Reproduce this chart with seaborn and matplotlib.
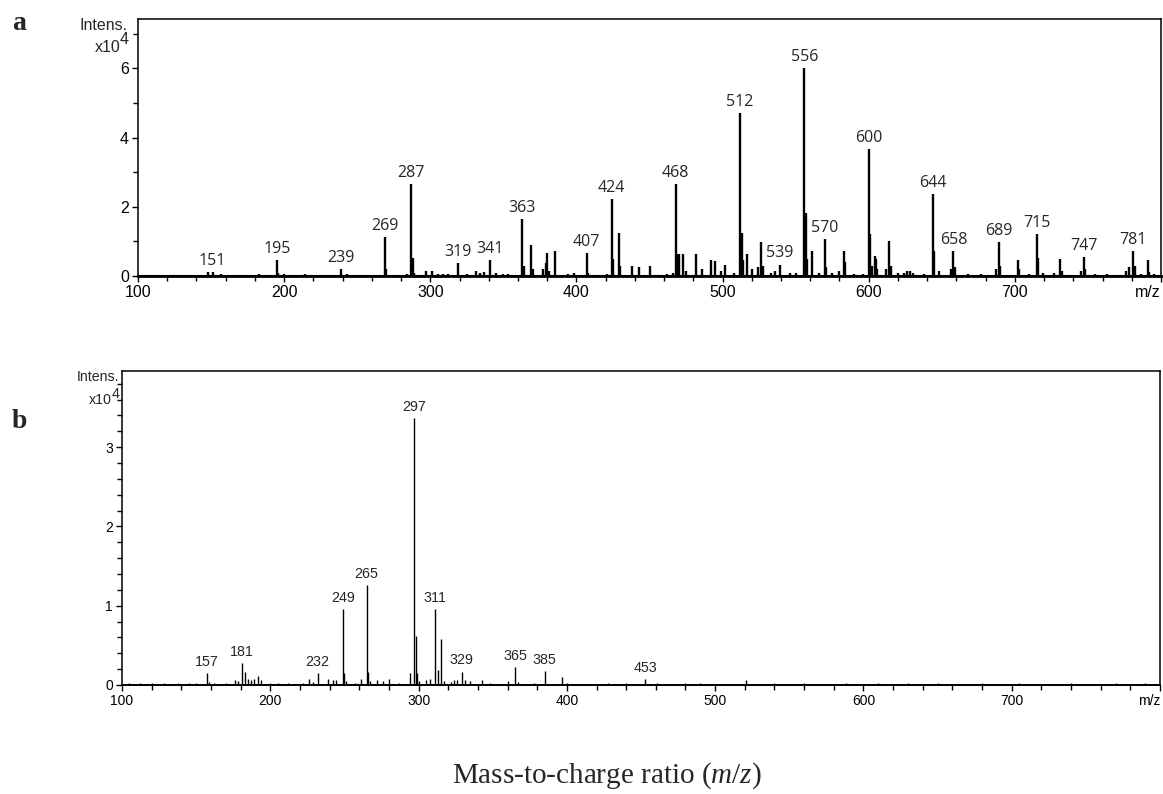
import matplotlib
matplotlib.use("Agg")
import matplotlib.pyplot as plt
import seaborn as sns
import pandas as pd
from matplotlib.ticker import MultipleLocator

# ---------------- data (intensity in units of 1e4) ----------------
a_mz = [148, 151, 157, 160, 175, 180, 183, 186, 190, 195, 196, 200, 205, 214, 218, 228,
        232, 239, 243, 269, 270, 275, 280, 284, 287, 288, 289, 297, 301, 305, 309, 312,
        319, 325, 331, 334, 337, 341, 345, 350, 353, 363, 364, 369, 370, 377, 379, 380,
        381, 385, 394, 398, 407, 408, 421, 424, 425, 429, 430, 438, 443, 450, 462, 466,
        468, 469, 470, 473, 475, 482, 486, 492, 495, 499, 502, 508, 512, 513, 514, 517,
        520, 524, 526, 528, 533, 536, 539, 546, 550, 556, 557, 558, 561, 566, 570, 571,
        575, 580, 583, 584, 590, 596, 600, 601, 602, 604, 605, 606, 612, 614, 615, 620,
        624, 626, 628, 630, 638, 644, 645, 648, 656, 658, 659, 668, 677, 687, 689, 690,
        702, 703, 710, 715, 716, 719, 727, 731, 732, 745, 747, 748, 755, 763, 776, 778,
        781, 782, 786, 791, 792, 795]
a_int = [0.11, 0.11, 0.06, 0.03, 0.03, 0.04, 0.06, 0.04, 0.04, 0.46, 0.08, 0.05, 0.03, 0.05, 0.03, 0.03,
         0.04, 0.21, 0.06, 1.12, 0.20, 0.03, 0.04, 0.05, 2.65, 0.52, 0.10, 0.15, 0.14, 0.05, 0.06, 0.06,
         0.38, 0.06, 0.15, 0.10, 0.12, 0.46, 0.08, 0.06, 0.05, 1.64, 0.30, 0.90, 0.20, 0.20, 0.38, 0.67,
         0.15, 0.72, 0.06, 0.08, 0.67, 0.10, 0.05, 2.22, 0.50, 1.25, 0.30, 0.30, 0.25, 0.28, 0.05, 0.10,
         2.65, 0.64, 0.64, 0.64, 0.15, 0.64, 0.20, 0.46, 0.43, 0.15, 0.33, 0.10, 4.70, 1.25, 0.46, 0.64,
         0.20, 0.25, 0.99, 0.30, 0.10, 0.15, 0.33, 0.10, 0.08, 6.01, 1.81, 0.50, 0.72, 0.10, 1.07, 0.25,
         0.10, 0.15, 0.72, 0.40, 0.06, 0.05, 3.66, 1.20, 0.30, 0.58, 0.50, 0.20, 0.20, 1.02, 0.30, 0.10,
         0.10, 0.15, 0.15, 0.10, 0.05, 2.38, 0.72, 0.15, 0.20, 0.72, 0.25, 0.05, 0.06, 0.20, 0.97, 0.30,
         0.46, 0.20, 0.06, 1.20, 0.52, 0.10, 0.10, 0.48, 0.15, 0.15, 0.55, 0.20, 0.06, 0.05, 0.15, 0.25,
         0.72, 0.30, 0.06, 0.46, 0.12, 0.05]
a_labels = [151, 195, 239, 269, 287, 319, 341, 363, 407, 424, 468, 512, 539, 556, 570,
            600, 644, 658, 689, 715, 747, 781]

b_mz = [105, 112, 120, 128, 138, 145, 150, 157, 159, 162, 170, 176, 178, 181, 183, 185,
        187, 189, 192, 194, 200, 205, 212, 222, 226, 229, 232, 239, 242, 244, 249, 250,
        251, 257, 261, 265, 266, 267, 272, 276, 280, 287, 294, 297, 298, 299, 300, 305,
        308, 311, 313, 315, 317, 322, 324, 326, 329, 331, 335, 343, 348, 360, 365, 367,
        378, 385, 397, 400, 428, 440, 453, 461, 480, 490, 521, 540, 560, 588, 610, 630,
        650, 680, 705, 740, 770, 790]
b_int = [0.02, 0.02, 0.02, 0.02, 0.02, 0.02, 0.02, 0.155, 0.04, 0.03, 0.03, 0.06, 0.05, 0.28, 0.17, 0.08,
         0.06, 0.08, 0.11, 0.06, 0.03, 0.02, 0.02, 0.03, 0.07, 0.04, 0.155, 0.08, 0.06, 0.06, 0.96, 0.15,
         0.05, 0.03, 0.08, 1.26, 0.17, 0.05, 0.06, 0.05, 0.07, 0.03, 0.15, 3.37, 0.62, 0.155, 0.05, 0.06,
         0.07, 0.96, 0.19, 0.58, 0.05, 0.04, 0.06, 0.06, 0.17, 0.06, 0.05, 0.06, 0.02, 0.05, 0.23, 0.04,
         0.03, 0.18, 0.10, 0.02, 0.03, 0.02, 0.076, 0.02, 0.02, 0.02, 0.06, 0.02, 0.02, 0.03, 0.02, 0.02,
         0.02, 0.02, 0.02, 0.03, 0.02, 0.02]
b_labels = [157, 181, 232, 249, 265, 297, 311, 329, 365, 385, 453]

x_ticks = [100, 200, 300, 400, 500, 600, 700, 800]
x_tick_labels = ["100", "200", "300", "400", "500", "600", "700", "m/z"]
a_y_ticks = [0, 2, 4, 6]
b_y_ticks = [0, 1, 2, 3]

# ---------------- style ----------------
sns.set_theme(style="ticks")
plt.rcParams["font.family"] = ["Liberation Sans", "DejaVu Sans"]
plt.rcParams["mathtext.fontset"] = "custom"
plt.rcParams["mathtext.rm"] = "Liberation Serif"
plt.rcParams["mathtext.it"] = "Liberation Serif:italic"

W, H = 1163, 794
fig = plt.figure(figsize=(W / 100, H / 100), dpi=100)


def fx(px):
    return px / W


def fy(py):
    return 1 - py / H


axa = fig.add_axes([fx(138), fy(276), fx(1161 - 138), (276 - 19) / H])
axb = fig.add_axes([fx(122), fy(685), fx(1160 - 122), (685 - 371) / H])

dfa = pd.DataFrame({"mz": a_mz, "intensity": a_int})
dfb = pd.DataFrame({"mz": b_mz, "intensity": b_int})

# stems
axa.vlines(dfa["mz"], 0, dfa["intensity"], color="black", lw=1.7)
axb.vlines(dfb["mz"], 0, dfb["intensity"], color="black", lw=1.0)
# baselines drawn through seaborn
sns.lineplot(x=[100, 800], y=[0, 0], ax=axa, color="black", lw=1.5)
sns.lineplot(x=[100, 800], y=[0, 0], ax=axb, color="black", lw=1.0)

# peak labels
amap = dict(zip(a_mz, a_int))
for m in a_labels:
    axa.annotate(str(m), (m, amap[m]), xytext=(0, 8.0), textcoords="offset points",
                 ha="center", va="center", fontsize=11.5, family=["Open Sans", "DejaVu Sans"])
bmap = dict(zip(b_mz, b_int))
for m in b_labels:
    axb.annotate(str(m), (m, bmap[m]), xytext=(0, 8.0), textcoords="offset points",
                 ha="center", va="center", fontsize=10.3)

# axes formatting
for ax, ylim, yt, ymin, fs, lwb in [(axa, 7.43, a_y_ticks, 1, 11.5, 2.0),
                                    (axb, 3.96, b_y_ticks, 0.2, 10.0, 1.4)]:
    ax.set_xlim(100, 800)
    ax.set_ylim(0, ylim)
    ax.set_xticks(x_ticks)
    ax.set_xticklabels(x_tick_labels, fontsize=fs)
    ax.xaxis.set_minor_locator(MultipleLocator(20))
    ax.set_yticks(yt)
    ax.set_yticklabels([str(v) for v in yt], fontsize=fs)
    ax.yaxis.set_minor_locator(MultipleLocator(ymin))
    ax.tick_params(which="major", direction="out", length=4, width=1.0, color="black",
                   pad=2.5, labelcolor="black")
    ax.tick_params(which="minor", direction="out", length=3.5, width=1.0, color="black")
    ax.tick_params(axis="y", which="both", left=True)
    ax.tick_params(axis="x", which="both", bottom=True)
    for s in ax.spines.values():
        s.set_visible(True)
        s.set_color("black")
        s.set_linewidth(1.1)
    ax.spines["bottom"].set_linewidth(lwb)
    ax.xaxis.get_ticklabels()[-1].set_horizontalalignment("right")
    ax.set_xlabel("")
    ax.set_ylabel("")
    ax.grid(False)

# axis unit texts
fig.text(fx(104), fy(26), "Intens.", ha="center", va="center", fontsize=11.5)
fig.text(fx(108), fy(47), "x10", ha="center", va="center", fontsize=11.5)
fig.text(fx(124), fy(40), "4", ha="center", va="center", fontsize=11.5)

fig.text(fx(98), fy(377), "Intens.", ha="center", va="center", fontsize=10.2)
fig.text(fx(100), fy(400), "x10", ha="center", va="center", fontsize=10.2)
fig.text(fx(116), fy(394), "4", ha="center", va="center", fontsize=10.2)

# panel letters
serif = ["Liberation Serif", "DejaVu Serif"]
fig.text(fx(19), fy(29.5), "a", ha="center", va="baseline", fontsize=20, fontweight="bold", family=serif)
fig.text(fx(19), fy(428), "b", ha="center", va="baseline", fontsize=20, fontweight="bold", family=serif)

# common x label
fig.text(fx(607), fy(776), "Mass-to-charge ratio ($m/z$)", ha="center", va="center",
         fontsize=21, family=serif)

fig.savefig("out.png", dpi=100, facecolor="white")
